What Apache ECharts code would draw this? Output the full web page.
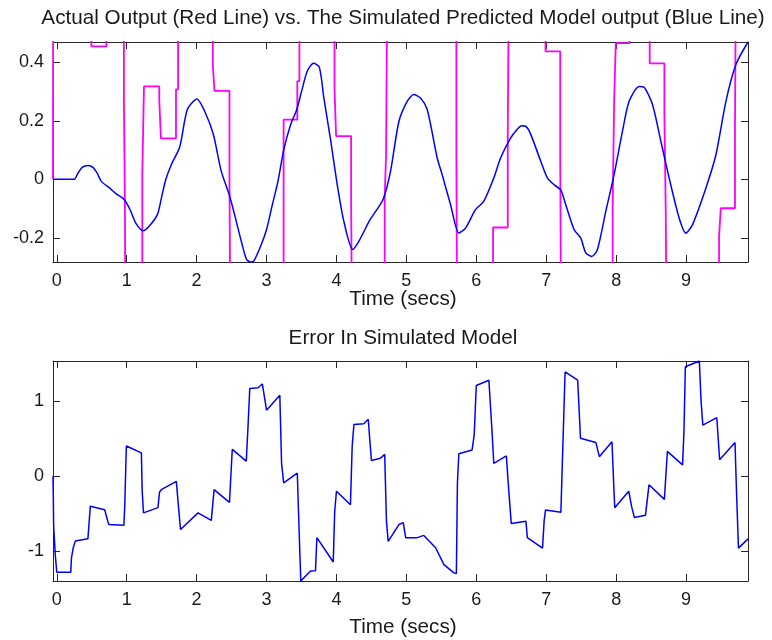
<!DOCTYPE html>
<html>
<head>
<meta charset="utf-8">
<script src="https://cdn.jsdelivr.net/npm/echarts@6/dist/echarts.min.js"></script>
<style>
html,body{margin:0;padding:0;background:#fff;}
#c{width:772px;height:640px;}
</style>
</head>
<body>
<div id="c"></div>
<script>
// ---------- data ----------
// Top panel: simulated predicted model output (blue)
const predTime = [-0.054, 0.25, 0.3, 0.36, 0.447, 0.52, 0.58, 0.637, 0.757, 0.85, 0.947, 0.995, 1.06, 1.13, 1.233, 1.33, 1.44, 1.5, 1.56, 1.638, 1.757, 1.829, 1.876, 2.005, 2.115, 2.238, 2.353, 2.472, 2.543, 2.639, 2.715, 2.78, 2.82, 2.924, 3.0, 3.08, 3.163, 3.245, 3.344, 3.43, 3.5, 3.582, 3.672, 3.755, 3.82, 3.916, 4.011, 4.106, 4.232, 4.32, 4.477, 4.668, 4.773, 4.893, 5.012, 5.107, 5.202, 5.298, 5.441, 5.512, 5.632, 5.751, 5.846, 5.989, 6.108, 6.251, 6.347, 6.49, 6.58, 6.65, 6.71, 6.78, 6.923, 7.018, 7.12, 7.208, 7.28, 7.399, 7.494, 7.566, 7.651, 7.732, 7.852, 7.971, 8.09, 8.186, 8.329, 8.401, 8.52, 8.64, 8.759, 8.902, 8.998, 9.093, 9.284, 9.427, 9.57, 9.713, 9.886];
const predValue = [0, 0, 0.02, 0.04, 0.047, 0.04, 0.02, -0.007, -0.03, -0.05, -0.065, -0.08, -0.11, -0.15, -0.176, -0.158, -0.12, -0.06, 0.0, 0.05, 0.11, 0.2, 0.244, 0.275, 0.233, 0.155, 0.027, -0.057, -0.121, -0.212, -0.275, -0.283, -0.279, -0.224, -0.172, -0.09, -0.007, 0.1, 0.187, 0.237, 0.3, 0.37, 0.397, 0.384, 0.278, 0.135, -0.018, -0.144, -0.24, -0.212, -0.14, -0.068, 0.027, 0.198, 0.267, 0.29, 0.278, 0.239, 0.073, 0.016, -0.087, -0.184, -0.167, -0.104, -0.075, 0.005, 0.073, 0.141, 0.17, 0.183, 0.181, 0.153, 0.061, 0.004, -0.02, -0.036, -0.087, -0.172, -0.201, -0.252, -0.264, -0.241, -0.11, 0.016, 0.164, 0.267, 0.318, 0.315, 0.256, 0.13, 0.004, -0.133, -0.184, -0.155, -0.03, 0.084, 0.267, 0.393, 0.47];

// Top panel: actual output (magenta, sample-and-hold; +/-1 = beyond the axis window)
const actualTime = [-0.054, -0.05, 0.495, 0.71, 0.96, 0.975, 0.99, 1.223, 1.247, 1.466, 1.49, 1.705, 1.735, 2.232, 2.255, 2.47, 2.495, 3.244, 3.44, 3.47, 3.972, 3.995, 4.21, 4.235, 4.69, 4.71, 4.735, 5.715, 5.735, 6.24, 6.45, 6.475, 6.99, 7.2, 7.225, 7.95, 7.972, 7.995, 8.19, 8.48, 8.69, 8.71, 8.735, 9.472, 9.496, 9.70, 9.72, 9.886];
const actualValue = [0.0, 1, 0.455, 1, 0.28, -0.10, -1, 0.016, 0.318, 0.27, 0.14, 0.308, 1, 0.392, 0.303, -0.007, -1, 0.204, 0.336, 1, 0.31, 0.148, -0.073, -1, -0.066, 0.09, 1, 0.085, -1, -0.165, 0.152, 1, 0.438, 0.077, -1, -0.10, 0.275, 0.466, 1, 0.397, 0.22, -0.115, -1, -0.198, -0.099, 0.185, 1, 1];

// Bottom panel: error in simulated model (blue)
const errTime = [-0.054, -0.05, -0.045, -0.02, 0.0, 0.2, 0.21, 0.235, 0.265, 0.445, 0.455, 0.48, 0.685, 0.733, 0.745, 0.96, 0.972, 0.995, 1.21, 1.222, 1.24, 1.447, 1.47, 1.495, 1.71, 1.74, 1.77, 2.02, 2.21, 2.25, 2.47, 2.51, 2.71, 2.735, 2.76, 2.88, 2.94, 3.0, 3.19, 3.215, 3.245, 3.44, 3.465, 3.49, 3.51, 3.63, 3.70, 3.72, 3.73, 3.954, 3.975, 4.0, 4.2, 4.225, 4.25, 4.39, 4.455, 4.475, 4.5, 4.63, 4.69, 4.715, 4.74, 4.893, 4.955, 4.99, 5.155, 5.25, 5.418, 5.537, 5.68, 5.715, 5.73, 5.75, 5.94, 5.97, 6.0, 6.18, 6.225, 6.25, 6.43, 6.465, 6.5, 6.71, 6.73, 6.947, 6.97, 6.99, 7.21, 7.225, 7.27, 7.45, 7.47, 7.49, 7.71, 7.76, 7.94, 7.965, 7.98, 8.18, 8.22, 8.26, 8.42, 8.47, 8.69, 8.733, 8.95, 8.97, 8.99, 9.19, 9.215, 9.24, 9.44, 9.48, 9.70, 9.725, 9.75, 9.886];
const errValue = [0.0, -0.24, -0.66, -1.07, -1.28, -1.28, -1.09, -0.955, -0.866, -0.836, -0.712, -0.40, -0.447, -0.611, -0.645, -0.654, -0.40, 0.403, 0.31, -0.20, -0.49, -0.42, -0.21, -0.18, -0.07, -0.40, -0.712, -0.49, -0.59, -0.18, -0.35, 0.358, 0.2, 0.66, 1.17, 1.18, 1.23, 0.88, 1.08, 0.17, -0.09, 0.04, -0.70, -1.398, -1.375, -1.264, -1.26, -0.82, -0.82, -1.145, -0.468, -0.2, -0.38, 0.4, 0.69, 0.70, 0.76, 0.505, 0.21, 0.24, 0.29, -0.6, -0.87, -0.645, -0.62, -0.82, -0.82, -0.79, -0.955, -1.18, -1.29, -1.30, -0.093, 0.30, 0.35, 0.55, 1.21, 1.28, 0.6, 0.17, 0.27, -0.2, -0.63, -0.6, -0.82, -0.96, -0.6, -0.45, -0.48, 0.0, 1.39, 1.28, 0.9, 0.505, 0.45, 0.26, 0.46, -0.1, -0.42, -0.2, -0.4, -0.55, -0.52, -0.115, -0.31, 0.33, 0.15, 0.6, 1.46, 1.536, 1.0, 0.68, 0.78, 0.22, 0.45, -0.3, -0.96, -0.836];

// Axis windows and tick labels
const xRange = [-0.054, 9.886];
const topYRange = [-0.283, 0.47];
const bottomYRange = [-1.398, 1.536];
const xTicks = [0, 1, 2, 3, 4, 5, 6, 7, 8, 9];
const topYTicks = [-0.2, 0, 0.2, 0.4];
const bottomYTicks = [-1, 0, 1];

const topTitle = 'Actual Output (Red Line) vs. The Simulated Predicted Model output (Blue Line)';
const bottomTitle = 'Error In Simulated Model';
const xLabel = 'Time (secs)';

// ---------- chart ----------
const FONT = '"Liberation Sans", Arial, Helvetica, sans-serif';
const AXC = '#262626';
const zip = (a, b) => a.map((t, i) => [t, b[i]]);

function xAxis(grid, pos, labels) {
  return {
    type: 'value', gridIndex: grid, position: pos,
    min: xRange[0], max: xRange[1],
    axisLine: {show: true, onZero: false, lineStyle: {color: AXC, width: 1}},
    axisTick: {show: true, inside: true, length: 7, customValues: xTicks, lineStyle: {color: AXC, width: 1}},
    axisLabel: {show: labels, customValues: xTicks, margin: 10, color: '#1a1a1a', fontSize: 18, fontFamily: FONT},
    splitLine: {show: false}
  };
}
function yAxis(grid, pos, range, ticks, labels) {
  return {
    type: 'value', gridIndex: grid, position: pos,
    min: range[0], max: range[1],
    axisLine: {show: true, onZero: false, lineStyle: {color: AXC, width: 1}},
    axisTick: {show: true, inside: true, length: 7, customValues: ticks, lineStyle: {color: AXC, width: 1}},
    axisLabel: {show: labels, customValues: ticks, margin: 9, color: '#1a1a1a', fontSize: 18, fontFamily: FONT},
    splitLine: {show: false}
  };
}
const titleStyle = {color: '#1a1a1a', fontSize: 20.7, fontWeight: 'normal', fontFamily: FONT};

const chart = echarts.init(document.getElementById('c'), null, {renderer: 'canvas'});
chart.setOption({
  animation: false,
  backgroundColor: '#ffffff',
  title: [
    {text: topTitle, left: 398, top: 3, textAlign: 'center', textStyle: titleStyle},
    {text: xLabel, left: 398, top: 284, textAlign: 'center', textStyle: titleStyle},
    {text: bottomTitle, left: 398, top: 323, textAlign: 'center', textStyle: titleStyle},
    {text: xLabel, left: 398, top: 612, textAlign: 'center', textStyle: titleStyle}
  ],
  grid: [
    {left: 53, right: 24, top: 42, height: 220},
    {left: 53, right: 24, top: 361, height: 220}
  ],
  xAxis: [
    xAxis(0, 'bottom', true), xAxis(0, 'top', false),
    xAxis(1, 'bottom', true), xAxis(1, 'top', false)
  ],
  yAxis: [
    yAxis(0, 'left', topYRange, topYTicks, true), yAxis(0, 'right', topYRange, topYTicks, false),
    yAxis(1, 'left', bottomYRange, bottomYTicks, true), yAxis(1, 'right', bottomYRange, bottomYTicks, false)
  ],
  series: [
    {type: 'line', xAxisIndex: 0, yAxisIndex: 0, data: zip(actualTime, actualValue), step: 'end',
     symbol: 'none', clip: true, lineStyle: {color: '#ff00ff', width: 1.8}, z: 2},
    {type: 'line', xAxisIndex: 0, yAxisIndex: 0, data: zip(predTime, predValue), smooth: 0.25,
     symbol: 'none', clip: true, lineStyle: {color: '#0000ff', width: 1.5}, z: 3},
    {type: 'line', xAxisIndex: 2, yAxisIndex: 2, data: zip(errTime, errValue),
     symbol: 'none', clip: true, lineStyle: {color: '#0000ff', width: 1.5}, z: 3}
  ]
});
</script>
</body>
</html>
